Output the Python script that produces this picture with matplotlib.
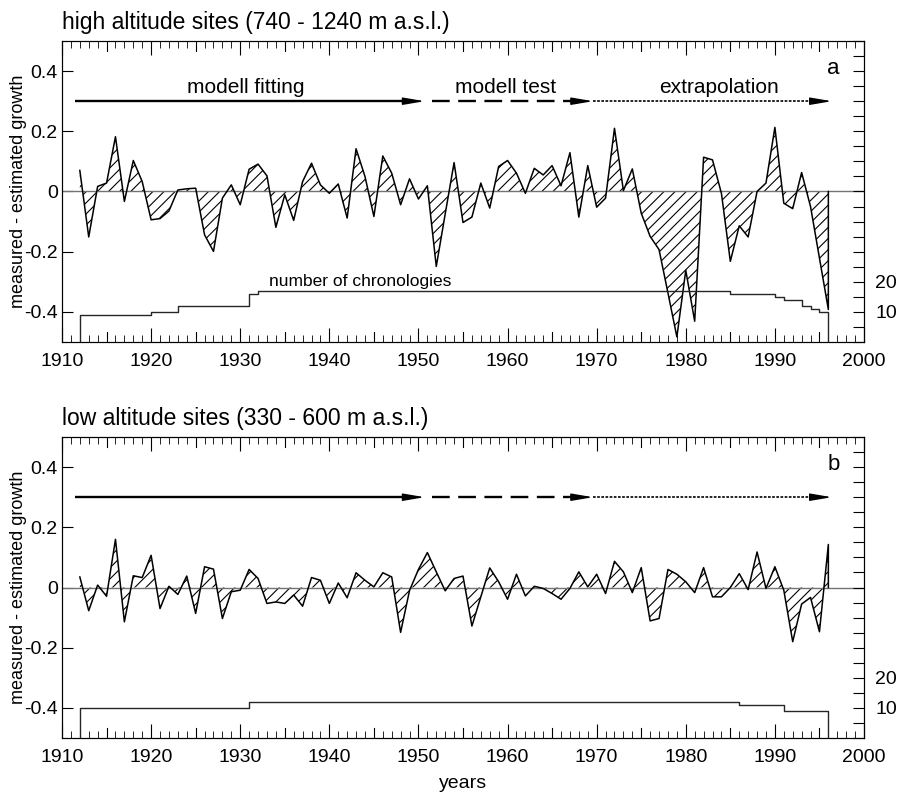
import matplotlib
matplotlib.use("Agg")
import matplotlib.pyplot as plt
import numpy as np

plt.rcParams["font.family"] = ["Liberation Sans", "DejaVu Sans"]
plt.rcParams["hatch.linewidth"] = 0.8

years = list(range(1912, 1997))

high_vals = [
    0.07, -0.151, 0.017, 0.028, 0.182, -0.033, 0.103, 0.033, -0.094, -0.09,
    -0.065, 0.005, 0.009, 0.011, -0.144, -0.199, -0.022, 0.022, -0.044, 0.074,
    0.091, 0.052, -0.119, -0.011, -0.096, 0.033, 0.094, 0.022, -0.006, 0.025,
    -0.088, 0.142, 0.05, -0.083, 0.118, 0.061, -0.044, 0.042, -0.025, 0.019,
    -0.249, -0.075, 0.096, -0.103, -0.085, 0.028, -0.055, 0.083, 0.103, 0.061,
    -0.006, 0.077, 0.055, 0.086, 0.019, 0.129, -0.085, 0.086, -0.052, -0.022,
    0.21, 0.003, 0.075, -0.072, -0.149, -0.193, -0.337, -0.483, -0.262, -0.431,
    0.114, 0.105, -0.006, -0.232, -0.114, -0.151, 0.0, 0.028, 0.213, -0.039,
    -0.057, 0.063, -0.05, -0.221, -0.392,
]

low_vals = [
    0.035, -0.077, 0.008, -0.029, 0.16, -0.114, 0.039, 0.033, 0.107, -0.07,
    0.004, -0.023, 0.038, -0.086, 0.069, 0.061, -0.103, -0.014, -0.009, 0.06,
    0.03, -0.053, -0.048, -0.053, -0.025, -0.062, 0.033, 0.024, -0.053, 0.015,
    -0.034, 0.049, 0.024, 0.002, 0.049, 0.035, -0.149, -0.01, 0.06, 0.116,
    0.052, -0.011, 0.03, 0.038, -0.128, -0.031, 0.065, 0.019, -0.039, 0.044,
    -0.028, 0.004, -0.003, -0.02, -0.039, -0.003, 0.052, 0.002, 0.044, -0.02,
    0.087, 0.052, -0.017, 0.066, -0.111, -0.103, 0.06, 0.044, 0.019, -0.017,
    0.066, -0.031, -0.031, 0.0, 0.046, -0.007, 0.118, -0.003, 0.069, -0.009,
    -0.18, -0.055, -0.033, -0.147, 0.143,
]

# number of chronologies (value valid from the given year on)
chron_years_high = [1912, 1920, 1923, 1931, 1932, 1985, 1990, 1991, 1993, 1994, 1995, 1996]
chron_high = [9, 10, 12, 16, 17, 16, 15, 14, 12, 11, 10, 10]
chron_years_low = [1912, 1931, 1986, 1991, 1996]
chron_low = [10, 12, 11, 9, 9]

titles = ["high altitude sites (740 - 1240 m a.s.l.)",
          "low altitude sites (330 - 600 m a.s.l.)"]
letters = ["a", "b"]
phase_labels = ["modell fitting", "modell test", "extrapolation"]
phase_label_x = [1930.6, 1959.8, 1983.7]
phase_bounds = [(1911.5, 1950.7), (1951.5, 1969.6), (1969.6, 1996.4)]
phase_styles = [("-", 1.7), ((0, (7.5, 3.6)), 1.7), ((0, (1.6, 0.9)), 1.2)]


def arrow(ax, x0, x1, ls, lw, y=0.3):
    hl = 1.9
    ax.plot([x0, x1 - hl * 0.8], [y, y], ls=ls, lw=lw, color="black",
            dash_capstyle="butt", solid_capstyle="butt")
    ax.annotate("", xy=(x1, y), xytext=(x1 - hl, y),
                arrowprops=dict(arrowstyle="-|>,head_length=1.3,head_width=0.22",
                                color="black", lw=1, shrinkA=0, shrinkB=0))


def panel(ax, vals, cy, cv, title, letter, top_labels):
    ax.set_xlim(1910, 2000)
    ax.set_ylim(-0.5, 0.5)
    ax.axhline(0, color="0.45", lw=1)
    ax.fill_between(years, vals, 0, facecolor="none", edgecolor="black",
                    hatch="///", linewidth=0)
    x = years + [years[-1]]
    y = vals + [0]
    ax.plot(x, y, color="black", lw=1.1)

    ax.set_xticks(np.arange(1910, 2001, 10))
    ax.set_xticks(np.arange(1910, 2001, 1), minor=True)
    ax.set_yticks([-0.4, -0.2, 0, 0.2, 0.4], ["-0.4", "-0.2", "0", "0.2", "0.4"])
    ax.tick_params(axis="x", which="major", direction="in", length=10,
                   top=True, labelsize=14, pad=8)
    ax.tick_params(axis="x", which="minor", direction="in", length=5, top=True)
    ax.tick_params(axis="y", direction="in", length=8, labelsize=14, pad=3)
    # 5-year ticks as long ticks
    for yr in range(1915, 2000, 10):
        ax.axvline(yr, ymin=0, ymax=10 / 301, color="black", lw=0.8)
        ax.axvline(yr, ymin=1 - 10 / 301, ymax=1, color="black", lw=0.8)

    ax.text(0, 1.04, title, transform=ax.transAxes, fontsize=16.5,
            ha="left", va="baseline")
    ax.text(1996.6, 0.41, letter, fontsize=16, ha="center", va="center")

    for (x0, x1), (ls, lw) in zip(phase_bounds, phase_styles):
        arrow(ax, x0, x1, ls, lw)
    if top_labels:
        for cx, lab in zip(phase_label_x, phase_labels):
            ax.text(cx, 0.345, lab, fontsize=15, ha="center", va="center")

    ax2 = ax.twinx()
    ax2.set_ylim(0, 100)
    sx = [cy[0]] + cy + [cy[-1]]
    sy = [0] + cv + [0]
    ax2.plot(sx, sy, drawstyle="steps-post", color="0.15", lw=1)
    ax2.set_yticks(np.arange(0, 101, 5),
                   ["10" if v == 10 else "20" if v == 20 else "" for v in range(0, 101, 5)])
    ax2.tick_params(axis="y", direction="in", length=8, labelsize=14, pad=8)
    return ax2


fig = plt.figure(figsize=(8.97, 7.93), dpi=100)
ax_a = fig.add_axes([62 / 897, 1 - 342 / 793, 802 / 897, 301 / 793])
ax_b = fig.add_axes([62 / 897, 1 - 738 / 793, 802 / 897, 301 / 793])

panel(ax_a, high_vals, chron_years_high, chron_high, titles[0], letters[0], True)
panel(ax_b, low_vals, chron_years_low, chron_low, titles[1], letters[1], False)

for yc in (191.5, 587.5):
    fig.text(19 / 897, 1 - yc / 793, "measured - estimated growth", fontsize=13,
             rotation=90, ha="center", va="center")

ax_a.text(1943.5, -0.3, "number of chronologies", fontsize=12.5,
          ha="center", va="center")
fig.text(463 / 897, 1 - 783 / 793, "years", fontsize=14, ha="center", va="center")

fig.savefig("out.png", dpi=100)
